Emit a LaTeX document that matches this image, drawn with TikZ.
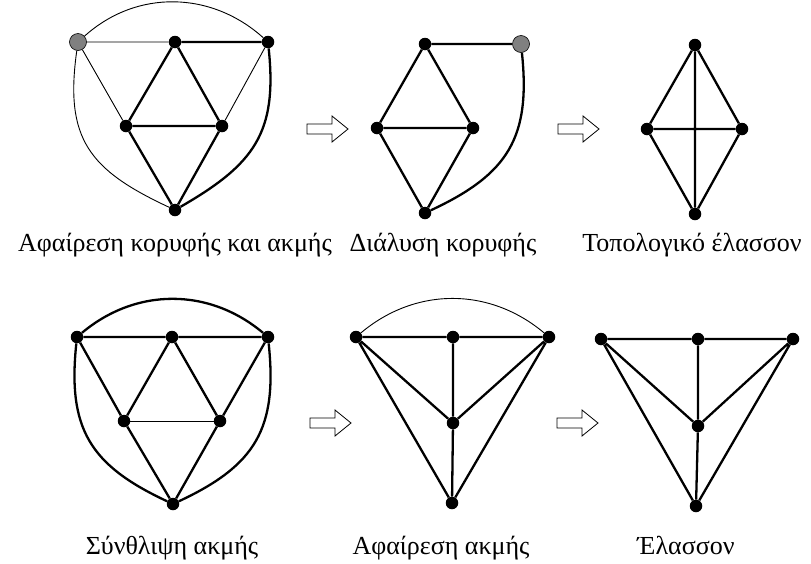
\documentclass[tikz,border=0pt]{standalone}
\usepackage{fontspec}
\setmainfont{Liberation Serif}
\begin{document}
\begin{tikzpicture}[x=1pt,y=1pt,
 vtx/.style={circle,fill=black,inner sep=0pt,minimum size=12.5pt},
 gvtx/.style={circle,fill=gray,draw=black,line width=0.6pt,inner sep=0pt,minimum size=17pt},
 thk/.style={line width=2.3pt},
 thn/.style={line width=0.9pt},
 lbl/.style={font=\fontsize{26}{30}\selectfont,anchor=base},
 hollow/.style={draw=black,line width=0.8pt,fill=white},
 harrow/.pic={\draw[hollow] (0,-5) -- (25,-5) -- (25,-13) -- (41,0) -- (25,13) -- (25,5) -- (0,5) -- cycle;}]
\useasboundingbox (0,0) rectangle (811,-563);

% Graph 1
\node[gvtx] (g1g) at (78,-42) {};
\node[vtx] (g1a) at (175,-42) {};
\node[vtx] (g1b) at (268,-42) {};
\node[vtx] (g1c) at (126,-126) {};
\node[vtx] (g1d) at (222,-126) {};
\node[vtx] (g1e) at (175,-210) {};
\draw[thn] (g1g) -- (g1a) (g1g) -- (g1c) (g1b) -- (g1d);
\draw[thn] (g1g) to[out=-98,in=155,looseness=1.25] (g1e);
\draw[thn] (g1g) to[out=42,in=138] (g1b);
\draw[thk] (g1a) -- (g1b) (g1a) -- (g1c) (g1a) -- (g1d) (g1c) -- (g1d) (g1c) -- (g1e) (g1d) -- (g1e);
\draw[thk] (g1b) to[out=-84,in=30,looseness=1.2] (g1e);

% Graph 2
\node[vtx] (g2t) at (425,-44) {};
\node[gvtx] (g2h) at (521,-44) {};
\node[vtx] (g2l) at (377,-128) {};
\node[vtx] (g2r) at (473,-128) {};
\node[vtx] (g2b) at (425,-213) {};
\draw[thk] (g2t) -- (g2h) (g2t) -- (g2l) (g2t) -- (g2r) (g2l) -- (g2r) (g2l) -- (g2b) (g2r) -- (g2b);
\draw[thk] (g2h) to[out=-84,in=25,looseness=1.2] (g2b);

% Graph 3
\node[vtx] (g3t) at (695,-45) {};
\node[vtx] (g3l) at (647,-129) {};
\node[vtx] (g3r) at (742,-129) {};
\node[vtx] (g3b) at (695,-214) {};
\draw[thk] (g3t) -- (g3l) (g3t) -- (g3r) (g3l) -- (g3b) (g3r) -- (g3b) (g3l) -- (g3r) (g3t) -- (g3b);

% Graph 4
\node[vtx] (g4a) at (77,-337) {};
\node[vtx] (g4b) at (172,-337) {};
\node[vtx] (g4c) at (268,-337) {};
\node[vtx] (g4d) at (124,-421) {};
\node[vtx] (g4e) at (220,-421) {};
\node[vtx] (g4f) at (173,-504) {};
\draw[thk] (g4a) -- (g4b) (g4b) -- (g4c) (g4a) -- (g4d) (g4b) -- (g4d) (g4b) -- (g4e) (g4c) -- (g4e) (g4d) -- (g4f) (g4e) -- (g4f);
\draw[thn] (g4d) -- (g4e);
\draw[thk] (g4a) to[out=-96,in=155,looseness=1.2] (g4f);
\draw[thk] (g4c) to[out=-84,in=25,looseness=1.2] (g4f);
\draw[thk] (g4a) to[out=40,in=140] (g4c);

% Graph 5
\node[vtx] (g5a) at (356,-337) {};
\node[vtx] (g5b) at (453,-337) {};
\node[vtx] (g5c) at (549,-337) {};
\node[vtx] (g5d) at (453,-423) {};
\node[vtx] (g5e) at (452,-503) {};
\draw[thk] (g5a) -- (g5b) (g5b) -- (g5c) (g5a) -- (g5d) (g5c) -- (g5d) (g5b) -- (g5d) (g5d) -- (g5e) (g5a) -- (g5e) (g5c) -- (g5e);
\draw[thn] (g5a) to[out=40,in=140] (g5c);

% Graph 6
\node[vtx] (g6a) at (601,-339) {};
\node[vtx] (g6b) at (698,-339) {};
\node[vtx] (g6c) at (793,-339) {};
\node[vtx] (g6d) at (698,-426) {};
\node[vtx] (g6e) at (696,-506) {};
\draw[thk] (g6a) -- (g6b) (g6b) -- (g6c) (g6a) -- (g6d) (g6c) -- (g6d) (g6b) -- (g6d) (g6d) -- (g6e) (g6a) -- (g6e) (g6c) -- (g6e);

% Arrows
\pic at (307,-129) {harrow};
\pic at (558,-129) {harrow};
\pic at (310,-423) {harrow};
\pic at (557,-423) {harrow};

% Labels
\node[lbl] (l1) at (175,-251) {Αφαίρεση κορυφής και ακμής};
\node[lbl] (l2) at (443,-251) {Διάλυση κορυφής};
\node[lbl] (l3) at (692,-251) {Τοπολογικό έλασσον};
\node[lbl] (l4) at (172,-554) {Σύνθλιψη ακμής};
\node[lbl] (l5) at (441,-554) {Αφαίρεση ακμής};
\node[lbl] (l6) at (686,-554) {Έλασσον};
\end{tikzpicture}
\end{document}
